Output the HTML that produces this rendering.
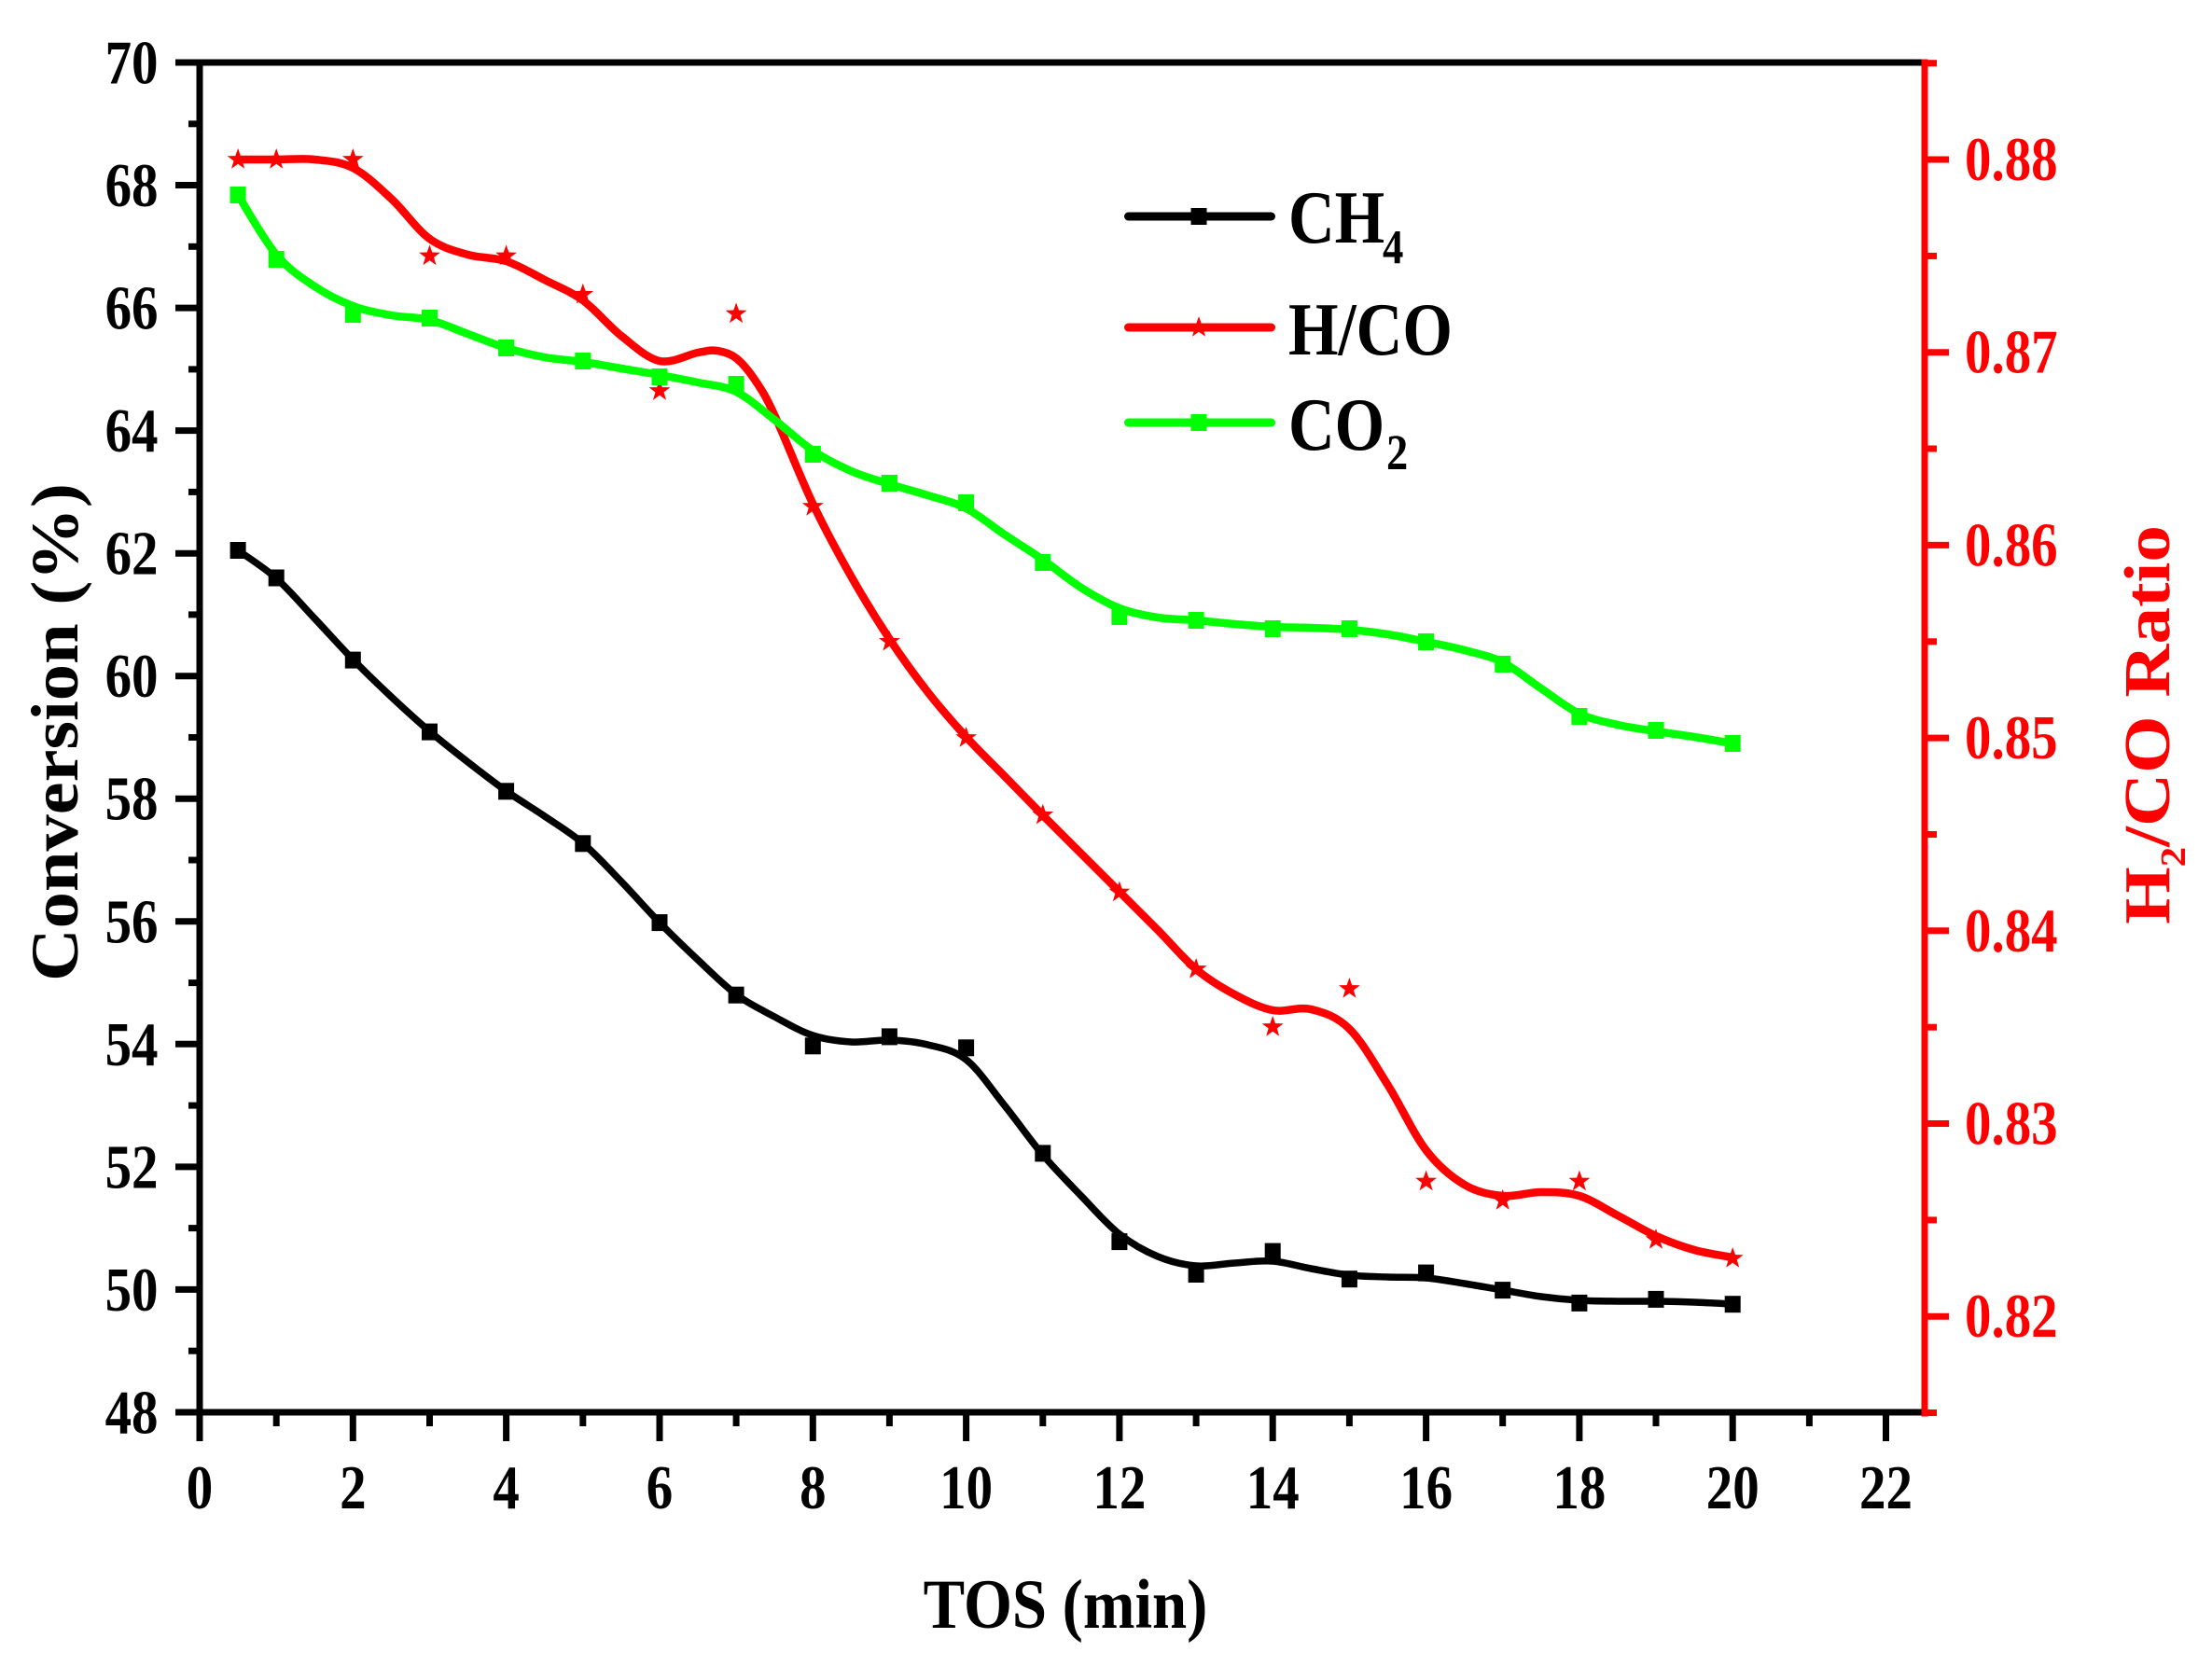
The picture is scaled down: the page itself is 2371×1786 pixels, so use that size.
<!DOCTYPE html>
<html>
<head>
<meta charset="utf-8">
<style>
  html,body{margin:0;padding:0;background:#ffffff;}
  svg{display:block;}
  text{font-family:"Liberation Serif","Times New Roman",serif;font-weight:bold;}
</style>
</head>
<body>
<svg width="2371" height="1786" viewBox="0 0 2371 1786" xmlns="http://www.w3.org/2000/svg">
<defs>
  <path id="st" d="M0,-12 L2.82,-3.88 L11.41,-3.71 L4.56,1.48 L7.05,9.71 L0,4.8 L-7.05,9.71 L-4.56,1.48 L-11.41,-3.71 L-2.82,-3.88Z" fill="#ff0000"/>
</defs>
<rect x="0" y="0" width="2371" height="1786" fill="#ffffff"/>

<!-- Axes frame -->
<rect x="210.5" y="63.5" width="1852" height="7" fill="#000"/>
<rect x="210.5" y="1510.5" width="1852" height="7" fill="#000"/>
<rect x="210.5" y="63.5" width="7" height="1454" fill="#000"/>
<rect x="2059.5" y="63.5" width="7" height="1455" fill="#ff0000"/>

<!-- Left ticks -->
<g stroke="#000" stroke-width="7">
  <line x1="188" y1="67" x2="214" y2="67"/>
  <line x1="188" y1="198.5" x2="214" y2="198.5"/>
  <line x1="188" y1="330.1" x2="214" y2="330.1"/>
  <line x1="188" y1="461.6" x2="214" y2="461.6"/>
  <line x1="188" y1="593.2" x2="214" y2="593.2"/>
  <line x1="188" y1="724.7" x2="214" y2="724.7"/>
  <line x1="188" y1="856.2" x2="214" y2="856.2"/>
  <line x1="188" y1="987.8" x2="214" y2="987.8"/>
  <line x1="188" y1="1119.3" x2="214" y2="1119.3"/>
  <line x1="188" y1="1250.9" x2="214" y2="1250.9"/>
  <line x1="188" y1="1382.4" x2="214" y2="1382.4"/>
  <line x1="188" y1="1514" x2="214" y2="1514"/>
  <line x1="202" y1="132.8" x2="214" y2="132.8"/>
  <line x1="202" y1="264.3" x2="214" y2="264.3"/>
  <line x1="202" y1="395.9" x2="214" y2="395.9"/>
  <line x1="202" y1="527.4" x2="214" y2="527.4"/>
  <line x1="202" y1="658.9" x2="214" y2="658.9"/>
  <line x1="202" y1="790.5" x2="214" y2="790.5"/>
  <line x1="202" y1="922" x2="214" y2="922"/>
  <line x1="202" y1="1053.6" x2="214" y2="1053.6"/>
  <line x1="202" y1="1185.1" x2="214" y2="1185.1"/>
  <line x1="202" y1="1316.6" x2="214" y2="1316.6"/>
  <line x1="202" y1="1448.2" x2="214" y2="1448.2"/>
</g>
<!-- Bottom ticks -->
<g stroke="#000" stroke-width="7">
  <line x1="214" y1="1514" x2="214" y2="1545"/>
  <line x1="378.3" y1="1514" x2="378.3" y2="1545"/>
  <line x1="542.6" y1="1514" x2="542.6" y2="1545"/>
  <line x1="707" y1="1514" x2="707" y2="1545"/>
  <line x1="871.3" y1="1514" x2="871.3" y2="1545"/>
  <line x1="1035.6" y1="1514" x2="1035.6" y2="1545"/>
  <line x1="1199.9" y1="1514" x2="1199.9" y2="1545"/>
  <line x1="1364.2" y1="1514" x2="1364.2" y2="1545"/>
  <line x1="1528.6" y1="1514" x2="1528.6" y2="1545"/>
  <line x1="1692.9" y1="1514" x2="1692.9" y2="1545"/>
  <line x1="1857.2" y1="1514" x2="1857.2" y2="1545"/>
  <line x1="2021.5" y1="1514" x2="2021.5" y2="1545"/>
  <line x1="296.2" y1="1514" x2="296.2" y2="1529"/>
  <line x1="460.5" y1="1514" x2="460.5" y2="1529"/>
  <line x1="624.8" y1="1514" x2="624.8" y2="1529"/>
  <line x1="789.1" y1="1514" x2="789.1" y2="1529"/>
  <line x1="953.4" y1="1514" x2="953.4" y2="1529"/>
  <line x1="1117.8" y1="1514" x2="1117.8" y2="1529"/>
  <line x1="1282.1" y1="1514" x2="1282.1" y2="1529"/>
  <line x1="1446.4" y1="1514" x2="1446.4" y2="1529"/>
  <line x1="1610.7" y1="1514" x2="1610.7" y2="1529"/>
  <line x1="1775" y1="1514" x2="1775" y2="1529"/>
  <line x1="1939.4" y1="1514" x2="1939.4" y2="1529"/>
</g>
<!-- Right ticks -->
<g stroke="#ff0000" stroke-width="7">
  <line x1="2063" y1="171" x2="2089" y2="171"/>
  <line x1="2063" y1="377.7" x2="2089" y2="377.7"/>
  <line x1="2063" y1="584.4" x2="2089" y2="584.4"/>
  <line x1="2063" y1="791.1" x2="2089" y2="791.1"/>
  <line x1="2063" y1="997.8" x2="2089" y2="997.8"/>
  <line x1="2063" y1="1204.5" x2="2089" y2="1204.5"/>
  <line x1="2063" y1="1411.2" x2="2089" y2="1411.2"/>
  <line x1="2063" y1="67.7" x2="2076" y2="67.7"/>
  <line x1="2063" y1="274.4" x2="2076" y2="274.4"/>
  <line x1="2063" y1="481" x2="2076" y2="481"/>
  <line x1="2063" y1="687.8" x2="2076" y2="687.8"/>
  <line x1="2063" y1="894.5" x2="2076" y2="894.5"/>
  <line x1="2063" y1="1101.2" x2="2076" y2="1101.2"/>
  <line x1="2063" y1="1307.9" x2="2076" y2="1307.9"/>
  <line x1="2063" y1="1514.5" x2="2076" y2="1514.5"/>
</g>

<!-- Left tick labels -->
<g font-size="67" fill="#000" text-anchor="end">
  <text transform="translate(169.5,89.5) scale(0.85,1)">70</text>
  <text transform="translate(169.5,221) scale(0.85,1)">68</text>
  <text transform="translate(169.5,352.6) scale(0.85,1)">66</text>
  <text transform="translate(169.5,484.1) scale(0.85,1)">64</text>
  <text transform="translate(169.5,615.7) scale(0.85,1)">62</text>
  <text transform="translate(169.5,747.2) scale(0.85,1)">60</text>
  <text transform="translate(169.5,878.7) scale(0.85,1)">58</text>
  <text transform="translate(169.5,1010.3) scale(0.85,1)">56</text>
  <text transform="translate(169.5,1141.8) scale(0.85,1)">54</text>
  <text transform="translate(169.5,1273.4) scale(0.85,1)">52</text>
  <text transform="translate(169.5,1404.9) scale(0.85,1)">50</text>
  <text transform="translate(169.5,1536.4) scale(0.85,1)">48</text>
</g>
<!-- Bottom tick labels -->
<g font-size="67" fill="#000" text-anchor="middle">
  <text transform="translate(214,1617) scale(0.85,1)">0</text>
  <text transform="translate(378.3,1617) scale(0.85,1)">2</text>
  <text transform="translate(542.6,1617) scale(0.85,1)">4</text>
  <text transform="translate(707,1617) scale(0.85,1)">6</text>
  <text transform="translate(871.3,1617) scale(0.85,1)">8</text>
  <text transform="translate(1035.6,1617) scale(0.85,1)">10</text>
  <text transform="translate(1199.9,1617) scale(0.85,1)">12</text>
  <text transform="translate(1364.2,1617) scale(0.85,1)">14</text>
  <text transform="translate(1528.6,1617) scale(0.85,1)">16</text>
  <text transform="translate(1692.9,1617) scale(0.85,1)">18</text>
  <text transform="translate(1857.2,1617) scale(0.85,1)">20</text>
  <text transform="translate(2021.5,1617) scale(0.85,1)">22</text>
</g>
<!-- Right tick labels -->
<g font-size="67" fill="#ff0000" text-anchor="start">
  <text transform="translate(2106,193) scale(0.85,1)">0.88</text>
  <text transform="translate(2106,399.7) scale(0.85,1)">0.87</text>
  <text transform="translate(2106,606.4) scale(0.85,1)">0.86</text>
  <text transform="translate(2106,813.1) scale(0.85,1)">0.85</text>
  <text transform="translate(2106,1019.8) scale(0.85,1)">0.84</text>
  <text transform="translate(2106,1226.5) scale(0.85,1)">0.83</text>
  <text transform="translate(2106,1433.2) scale(0.85,1)">0.82</text>
</g>

<!-- Axis titles -->
<text transform="translate(83,785) rotate(-90) scale(1.09,1)" text-anchor="middle" font-size="72" fill="#000">Conversion (%)</text>
<text transform="translate(1142,1745) scale(0.89,1)" text-anchor="middle" font-size="75" fill="#000">TOS (min)</text>
<text transform="translate(2325,777) rotate(-90) scale(1.13,1)" text-anchor="middle" font-size="70" fill="#ff0000">H<tspan font-size="38" dy="17">2</tspan><tspan dy="-17">/CO Ratio</tspan></text>

<!-- CH4 series -->
<g transform="translate(214,0) scale(82.16,1)">
  <path class="cv" fill="none" stroke="#000" stroke-width="7.5" stroke-linejoin="round" stroke-linecap="round" vector-effect="non-scaling-stroke"
   d="M0.5,590 L1,620 1.5,663 2,707 2.5,747 3,784 3.5,817 4,848 4.5,875 5,904 5.5,945 6,989 6.5,1029 7,1066 7.5,1090 8,1110 8.5,1117 9,1115 9.5,1120 10,1136 10.5,1185 11,1238 11.5,1282 12,1323 12.5,1347 13,1357 13.5,1354 14,1352 14.5,1360 15,1367 15.5,1369 16,1370 16.5,1376 17,1383 17.5,1390 18,1394 18.5,1395 19,1395 19.5,1396 20,1398"/>
</g>
<g fill="#000">
  <rect x="246.6" y="581" width="17" height="18"/>
  <rect x="287.7" y="610.5" width="17" height="18"/>
  <rect x="369.8" y="698.6" width="17" height="18"/>
  <rect x="452" y="775.6" width="17" height="18"/>
  <rect x="534.1" y="839.3" width="17" height="18"/>
  <rect x="616.3" y="895.3" width="17" height="18"/>
  <rect x="698.5" y="980.1" width="17" height="18"/>
  <rect x="780.6" y="1057.7" width="17" height="18"/>
  <rect x="862.8" y="1112.3" width="17" height="18"/>
  <rect x="944.9" y="1102.4" width="17" height="18"/>
  <rect x="1027.1" y="1114.3" width="17" height="18"/>
  <rect x="1109.3" y="1227.4" width="17" height="18"/>
  <rect x="1191.4" y="1322.1" width="17" height="18"/>
  <rect x="1273.6" y="1357" width="17" height="18"/>
  <rect x="1355.7" y="1332.6" width="17" height="18"/>
  <rect x="1437.9" y="1362.2" width="17" height="18"/>
  <rect x="1520.1" y="1355.6" width="17" height="18"/>
  <rect x="1602.2" y="1374.1" width="17" height="18"/>
  <rect x="1684.4" y="1387.9" width="17" height="18"/>
  <rect x="1766.5" y="1383.9" width="17" height="18"/>
  <rect x="1848.7" y="1389.2" width="17" height="18"/>
</g>

<!-- H/CO series -->
<g transform="translate(214,0) scale(82.16,1)">
  <path class="cv" fill="none" stroke="#ff0000" stroke-width="8.5" stroke-linejoin="round" stroke-linecap="round" vector-effect="non-scaling-stroke"
   d="M0.5,171 L1,171 1.5,171 2,180 2.5,213 3,256 3.5,273 4,280 4.5,300 5,322 5.5,360 6,387 6.5,378 6.75,376 7,384 7.25,408 7.5,445 8,540 8.5,618 9,685 9.5,742 10,790 10.5,832 11,874 11.5,915 12,956 12.5,997 13,1039 13.5,1066 14,1083 14.5,1082 15,1103 15.5,1163 16,1233 16.5,1270 17,1282 17.5,1278 18,1282 18.5,1303 19,1325 19.5,1340 20,1348"/>
</g>
<g>
  <use href="#st" x="255.1" y="171"/>
  <use href="#st" x="296.2" y="171"/>
  <use href="#st" x="378.3" y="171"/>
  <use href="#st" x="460.5" y="274.4"/>
  <use href="#st" x="542.6" y="274.4"/>
  <use href="#st" x="624.8" y="315.7"/>
  <use href="#st" x="707" y="419"/>
  <use href="#st" x="789.1" y="336.4"/>
  <use href="#st" x="871.3" y="543"/>
  <use href="#st" x="953.4" y="687.8"/>
  <use href="#st" x="1035.6" y="791"/>
  <use href="#st" x="1117.8" y="873.8"/>
  <use href="#st" x="1199.9" y="956.5"/>
  <use href="#st" x="1282.1" y="1039"/>
  <use href="#st" x="1364.2" y="1101"/>
  <use href="#st" x="1446.4" y="1060"/>
  <use href="#st" x="1528.6" y="1266.5"/>
  <use href="#st" x="1610.7" y="1287"/>
  <use href="#st" x="1692.9" y="1266.5"/>
  <use href="#st" x="1775" y="1329"/>
  <use href="#st" x="1857.2" y="1349"/>
</g>

<!-- CO2 series -->
<g transform="translate(214,0) scale(82.16,1)">
  <path class="cv" fill="none" stroke="#00ff00" stroke-width="8.5" stroke-linejoin="round" stroke-linecap="round" vector-effect="non-scaling-stroke"
   d="M0.5,209 L1,273 1.5,307 2,328 2.5,338 3,343 3.5,358 4,373 4.5,383 5,388 5.5,395 6,402 6.5,410 7,420 7.5,450 8,483 8.5,505 9,519 9.5,531 10,545 10.5,573 11,600 11.5,630 12,652 12.5,662 13,665 13.5,669 14,672 14.5,673 15,675 15.5,680 16,688 16.5,697 17,710 17.5,738 18,765 18.5,777 19,784 19.5,790 20,797"/>
</g>
<g fill="#00ff00">
  <rect x="246.6" y="200" width="17" height="18"/>
  <rect x="287.7" y="269" width="17" height="18"/>
  <rect x="369.8" y="328" width="17" height="18"/>
  <rect x="452" y="332" width="17" height="18"/>
  <rect x="534.1" y="364" width="17" height="18"/>
  <rect x="616.3" y="378" width="17" height="18"/>
  <rect x="698.5" y="395" width="17" height="18"/>
  <rect x="780.6" y="403" width="17" height="18"/>
  <rect x="862.8" y="478" width="17" height="18"/>
  <rect x="944.9" y="509" width="17" height="18"/>
  <rect x="1027.1" y="530" width="17" height="18"/>
  <rect x="1109.3" y="594" width="17" height="18"/>
  <rect x="1191.4" y="652" width="17" height="18"/>
  <rect x="1273.6" y="656" width="17" height="18"/>
  <rect x="1355.7" y="665" width="17" height="18"/>
  <rect x="1437.9" y="665" width="17" height="18"/>
  <rect x="1520.1" y="679" width="17" height="18"/>
  <rect x="1602.2" y="703" width="17" height="18"/>
  <rect x="1684.4" y="759" width="17" height="18"/>
  <rect x="1766.5" y="774" width="17" height="18"/>
  <rect x="1848.7" y="788" width="17" height="18"/>
</g>

<!-- Legend -->
<line x1="1209.5" y1="232" x2="1362.5" y2="232" stroke="#000" stroke-width="9" stroke-linecap="round"/>
<rect x="1276.5" y="223" width="17" height="18" fill="#000"/>
<text transform="translate(1381,260) scale(0.86,1)" font-size="80" fill="#000">CH</text>
<text transform="translate(1482,282) scale(0.86,1)" font-size="52" fill="#000">4</text>

<line x1="1209.5" y1="351" x2="1362.5" y2="351" stroke="#ff0000" stroke-width="9" stroke-linecap="round"/>
<use href="#st" x="1285" y="351"/>
<text transform="translate(1381,380) scale(0.86,1)" font-size="80" fill="#000">H/CO</text>

<line x1="1209.5" y1="453" x2="1362.5" y2="453" stroke="#00ff00" stroke-width="9" stroke-linecap="round"/>
<rect x="1276.5" y="444" width="17" height="18" fill="#00ff00"/>
<text transform="translate(1381,482) scale(0.86,1)" font-size="80" fill="#000">CO</text>
<text transform="translate(1486,503) scale(0.86,1)" font-size="54" fill="#000">2</text>
</svg>
<script>
(function(){
  function smooth(el){
    var raw = el.getAttribute('d').replace(/[ML]/g,' ').trim().split(/\s+/);
    var s = raw.map(function(q){return q.split(',').map(Number);});
    var n = s.length;
    var d = 'M' + s[0][0] + ',' + s[0][1];
    for (var i = 0; i < n - 1; i++) {
      var a = s[Math.max(i-1,0)], b = s[i], c = s[i+1], e = s[Math.min(i+2,n-1)];
      var c1x = b[0] + (c[0]-a[0])/6, c1y = b[1] + (c[1]-a[1])/6;
      var c2x = c[0] - (e[0]-b[0])/6, c2y = c[1] - (e[1]-b[1])/6;
      d += ' C' + c1x.toFixed(4) + ',' + c1y.toFixed(2) + ' ' + c2x.toFixed(4) + ',' + c2y.toFixed(2) + ' ' + c[0] + ',' + c[1];
    }
    el.setAttribute('d', d);
  }
  var els = document.querySelectorAll('path.cv');
  for (var k = 0; k < els.length; k++) smooth(els[k]);
})();
</script>
</body>
</html>
